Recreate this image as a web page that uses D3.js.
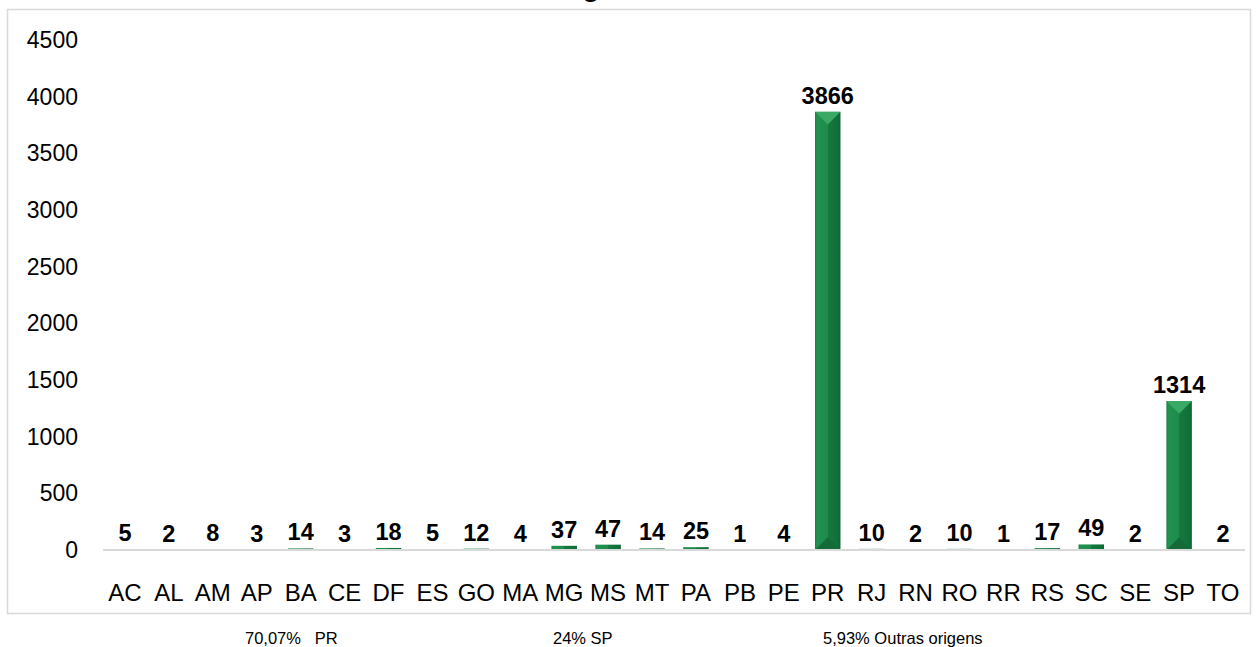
<!DOCTYPE html>
<html>
<head>
<meta charset="utf-8">
<script src="https://cdn.jsdelivr.net/npm/d3@7"></script>
<style>
  body { margin: 0; background: #fff; }
  text { font-family: Arial, "Liberation Sans", sans-serif; }
</style>
</head>
<body>
<div id="chart"></div>
<script>
// chart data
var states = ["AC","AL","AM","AP","BA","CE","DF","ES","GO","MA","MG","MS","MT",
              "PA","PB","PE","PR","RJ","RN","RO","RR","RS","SC","SE","SP","TO"];
var counts = [5,2,8,3,14,3,18,5,12,4,37,47,14,25,1,4,3866,10,2,10,1,17,49,2,1314,2];
var yTicks = [0,500,1000,1500,2000,2500,3000,3500,4000,4500];
var notes = ["70,07%   PR", "24% SP", "5,93% Outras origens"];
var noteX = [245, 553, 823];

var width = 1260, height = 647;

var svg = d3.select("#chart").append("svg")
    .attr("width", width)
    .attr("height", height);

// gradients for the bevelled bars
var defs = svg.append("defs");
var grad = defs.append("linearGradient")
    .attr("id", "barGrad")
    .attr("x1", "0%").attr("x2", "100%").attr("y1", "0%").attr("y2", "0%");
[["0%", "#197f44"], ["8%", "#21924f"], ["50%", "#1e8b4c"],
 ["50%", "#147a3f"], ["92%", "#106f39"], ["100%", "#0c6130"]].forEach(function(s) {
  grad.append("stop").attr("offset", s[0]).attr("stop-color", s[1]);
});

// title (mostly cut off at the top edge, as in the source)
svg.append("text")
    .attr("x", 542)
    .attr("y", -4)
    .style("font-size", "28px")
    .style("font-weight", "bold")
    .text("Origem");

// chart frame
svg.append("rect")
    .attr("x", 7.5).attr("y", 9.5)
    .attr("width", 1243).attr("height", 604)
    .style("fill", "none")
    .style("stroke", "#d9d9d9")
    .style("stroke-width", 1.5);

// scales
var x = d3.scaleBand().domain(states).range([103, 1245]).paddingInner(0.42).paddingOuter(0.21);
var y = d3.scaleLinear().domain([0, 4500]).range([550, 40]);

// y axis labels
var yAxis = svg.append("g")
    .attr("transform", "translate(78,0)")
    .call(d3.axisLeft(y).tickValues(yTicks).tickSize(0).tickPadding(0).tickFormat(d3.format("d")));
yAxis.select(".domain").remove();
yAxis.selectAll("text")
    .style("font-family", "Arial, 'Liberation Sans', sans-serif")
    .style("font-size", "23px")
    .style("fill", "#000");

// bars
var bars = svg.append("g").selectAll("g")
    .data(states)
    .enter().append("g");

bars.append("rect")
    .attr("x", function(d) { return x(d); })
    .attr("y", function(d, i) { return y(counts[i]); })
    .attr("width", x.bandwidth())
    .attr("height", function(d, i) { return y(0) - y(counts[i]); })
    .style("fill", "url(#barGrad)");

// top light bevel and bottom dark bevel
bars.filter(function(d, i) { return y(0) - y(counts[i]) > x.bandwidth(); })
  .each(function(d) {
    var g = d3.select(this),
        v = counts[states.indexOf(d)],
        x0 = x(d), x1 = x(d) + x.bandwidth(), cx = (x0 + x1) / 2,
        h = x.bandwidth() / 2;
    g.append("path")
        .attr("d", "M" + x0 + "," + y(v) + "L" + x1 + "," + y(v) + "L" + cx + "," + (y(v) + h) + "Z")
        .style("fill", "#3aa966");
    g.append("path")
        .attr("d", "M" + x0 + "," + y(0) + "L" + x1 + "," + y(0) + "L" + cx + "," + (y(0) - h) + "Z")
        .style("fill", "#156a39");
  });

// baseline
svg.append("line")
    .attr("x1", 103).attr("x2", 1245)
    .attr("y1", y(0)).attr("y2", y(0))
    .style("stroke", "#d9d9d9")
    .style("stroke-width", 2);

// value labels
bars.append("text")
    .attr("x", function(d) { return x(d) + x.bandwidth() / 2; })
    .attr("y", function(d, i) { return y(counts[i]) - 8; })
    .attr("text-anchor", "middle")
    .style("font-size", "23.5px")
    .style("font-weight", "bold")
    .text(function(d, i) { return counts[i]; });

// category labels
svg.append("g").selectAll("text")
    .data(states)
    .enter().append("text")
    .attr("x", function(d) { return x(d) + x.bandwidth() / 2; })
    .attr("y", 601)
    .attr("text-anchor", "middle")
    .style("font-size", "24px")
    .text(function(d) { return d; });

// notes under the frame
svg.append("g").selectAll("text")
    .data(notes)
    .enter().append("text")
    .attr("x", function(d, i) { return noteX[i]; })
    .attr("y", 644)
    .style("font-size", "16.5px")
    .style("white-space", "pre")
    .text(function(d) { return d; });
</script>
</body>
</html>
